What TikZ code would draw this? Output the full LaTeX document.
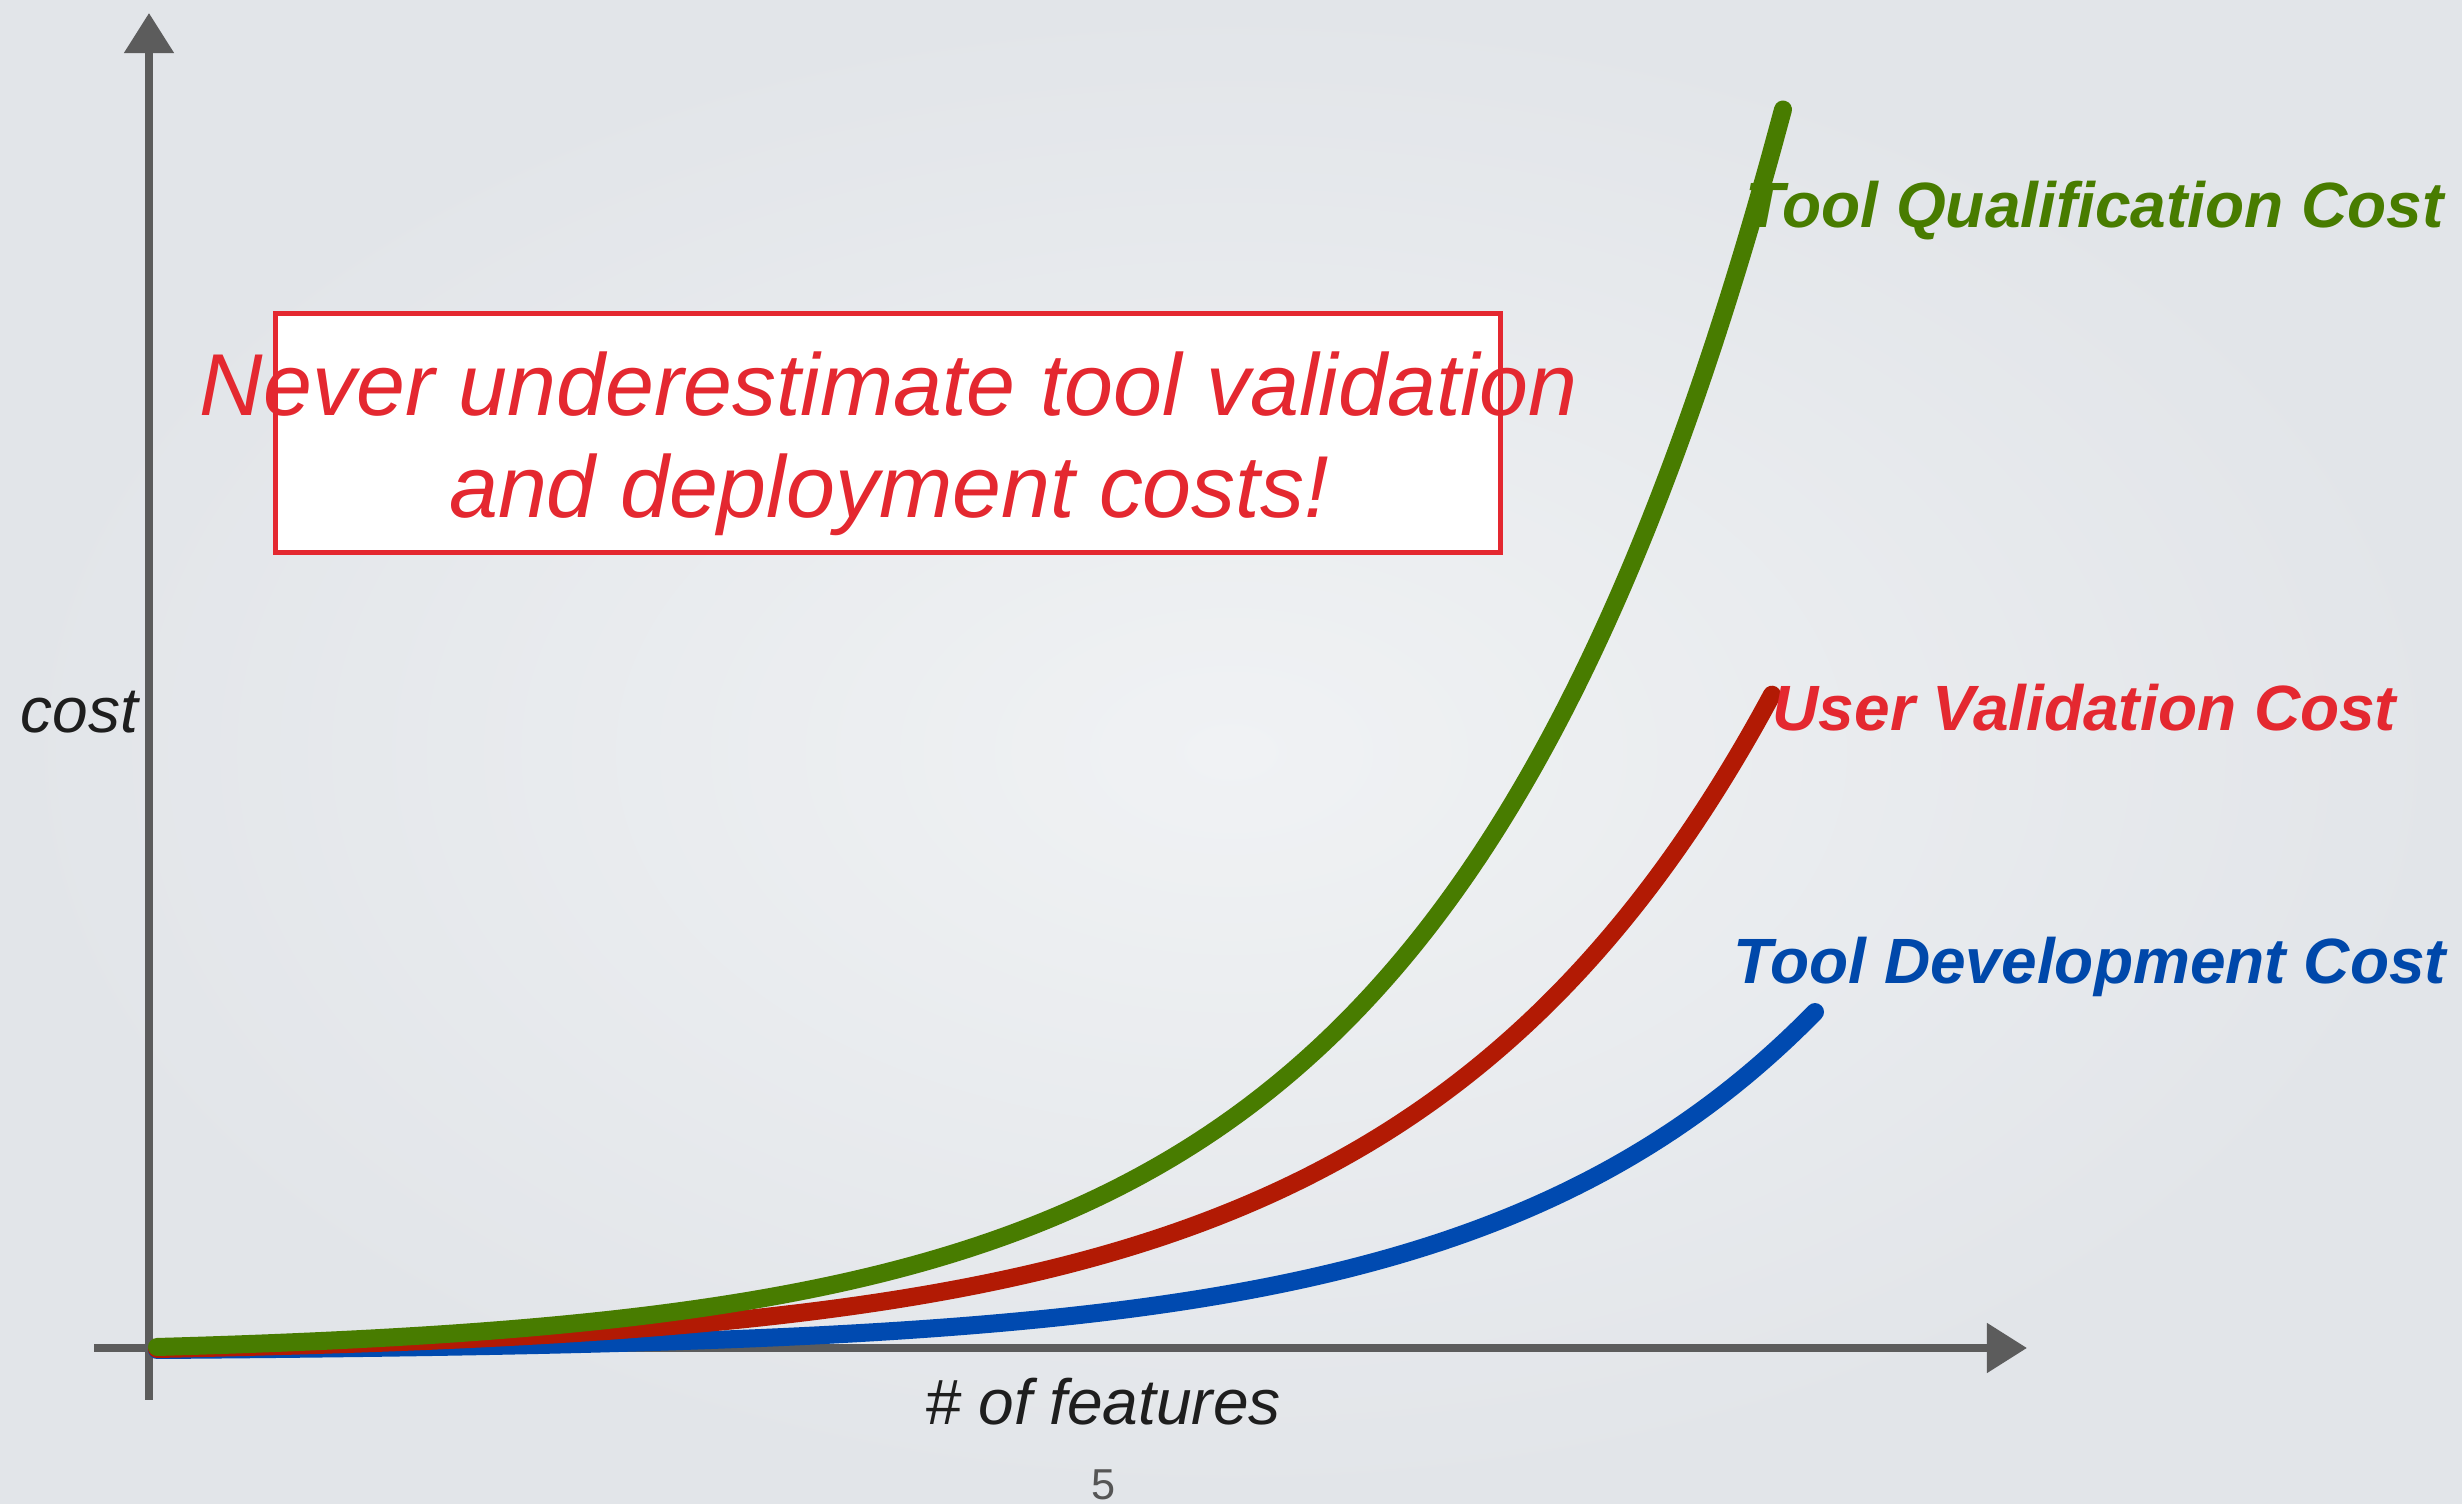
\documentclass[tikz,border=0pt]{standalone}
\usepackage{fontspec}
\setmainfont{Liberation Sans}
\usetikzlibrary{arrows.meta}
\definecolor{bgin}{RGB}{240,242,244}
\definecolor{bgout}{RGB}{226,229,233}
\definecolor{axisgray}{RGB}{92,92,92}
\definecolor{qgreen}{RGB}{72,124,0}
\definecolor{ured}{RGB}{178,26,4}
\definecolor{dblue}{RGB}{0,74,176}
\definecolor{msgred}{RGB}{228,40,48}
\definecolor{labred}{RGB}{228,40,48}
\definecolor{labblue}{RGB}{0,72,170}
\definecolor{darktext}{RGB}{30,30,30}
\definecolor{pagegray}{RGB}{85,85,85}
\begin{document}
\begin{tikzpicture}[x=0.01cm,y=-0.01cm,
  axisline/.style={draw=axisgray, line width=0.08cm, -{Triangle[length=0.4cm,width=0.48cm]}},
  curve/.style={line width=0.18cm, line cap=round, line join=round},
  msgbox/.style={fill=white, draw=msgred, line width=0.05cm},
  msgtext/.style={text=msgred, font=\fontsize{25}{30}\selectfont\itshape, inner sep=0pt, anchor=base},
  axislabel/.style={text=darktext, font=\fontsize{18.2}{22}\selectfont\itshape, inner sep=0pt},
  curvelabel/.style={font=\fontsize{18.2}{22}\selectfont\bfseries\itshape, inner sep=0pt, anchor=base west},
  pagenum/.style={text=pagegray, font=\fontsize{12.3}{14}\selectfont, inner sep=0pt, anchor=base}
]
\useasboundingbox (0,0) rectangle (2462,1504);
\shade[inner color=bgin, outer color=bgout] (0,0) rectangle (2462,1504);

% axes
\coordinate (yb) at (149,1400);
\coordinate (yt) at (149,13);
\coordinate (xl) at (94,1348);
\coordinate (xr) at (2027,1348);
\draw[axisline] (yb) -- (yt);
\draw[axisline] (xl) -- (xr);

% curves
\draw[curve, draw=dblue] plot[domain=157:1815, samples=120, smooth] (\x, {1350-2.33*(exp(0.003*(\x-157))-1)});
\draw[curve, draw=ured] plot[domain=157:1772, samples=120, smooth] (\x, {1349-7.1*(exp(0.0028*(\x-157))-1)});
\draw[curve, draw=qgreen] plot[domain=157:1783, samples=120, smooth] (\x, {1347-9.4*(exp(0.003*(\x-157))-1)});

% message box
\draw[msgbox] (275,314) rectangle (1500,553);
\node[msgtext] (msg1) at (889,416) {Never underestimate tool validation};
\node[msgtext] (msg2) at (889,518) {and deployment costs!};

% axis labels
\node[axislabel, anchor=base west] (cost) at (20,733) {cost};
\node[axislabel, anchor=base] (feat) at (1103,1425) {\# of features};
\node[pagenum] (page) at (1104,1500) {5};

% curve labels
\node[curvelabel, text=qgreen] (lq) at (1745,228) {Tool Qualification Cost};
\node[curvelabel, text=labred] (lu) at (1772,731) {User Validation Cost};
\node[curvelabel, text=labblue] (ld) at (1733,984) {Tool Development Cost};
\end{tikzpicture}
\end{document}
